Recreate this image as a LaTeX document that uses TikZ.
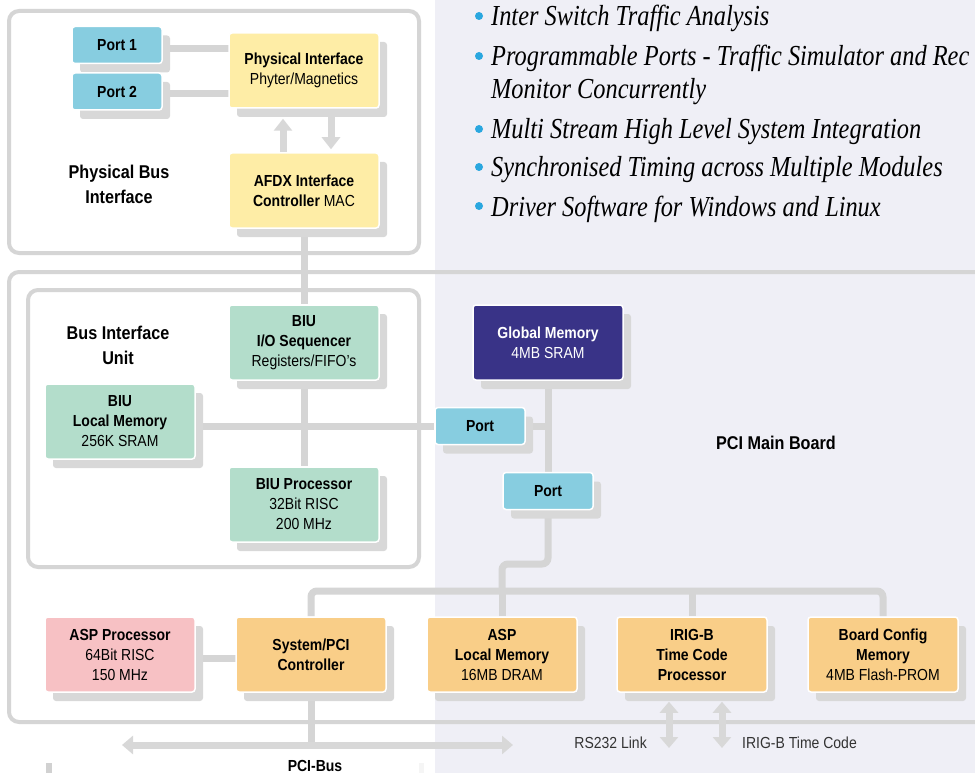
\documentclass[tikz,border=0pt]{standalone}
\usepackage{fontspec}
\setmainfont[FakeStretch=0.875]{Liberation Sans}
\newfontfamily\featfont[FakeStretch=0.84]{Liberation Serif}
\usetikzlibrary{arrows.meta,shadows}
\definecolor{bglav}{HTML}{EFEFF6}
\definecolor{linegray}{HTML}{D5D5D5}
\definecolor{shadowgray}{HTML}{D8D8D8}
\definecolor{portblue}{HTML}{87CDE0}
\definecolor{physyellow}{HTML}{FEEDA6}
\definecolor{biugreen}{HTML}{B3DDCB}
\definecolor{gmemblue}{HTML}{393387}
\definecolor{asppink}{HTML}{F7C1C4}
\definecolor{pciorange}{HTML}{F9CE88}
\definecolor{dotblue}{HTML}{2AA7DF}
\definecolor{labelgray}{HTML}{333333}
\pgfdeclarelayer{back}
\pgfdeclarelayer{wires}
\pgfsetlayers{back,wires,main}

\begin{document}
\begin{tikzpicture}[x=1pt,y=-1pt,
    box/.style={draw=white, line width=1.5pt, rounded corners=3pt,
      minimum width=150pt, minimum height=75pt, align=center, inner sep=2pt,
      font=\fontsize{16}{20}\selectfont,
      drop shadow={shadow xshift=8pt, shadow yshift=-9pt, fill=shadowgray, opacity=1}},
    portbox/.style={box, fill=portblue, minimum width=90pt, minimum height=37pt,
      font=\bfseries\fontsize{16}{20}\selectfont},
    bar/.style={draw=linegray, line width=7pt},
    frame/.style={draw=linegray, line width=4pt, rounded corners=10pt},
    arr/.style={draw=shadowgray, line width=7pt, arrows={-Triangle[width=18pt,length=12pt]}},
    dblarr/.style={draw=shadowgray, line width=7pt,
      arrows={Triangle[width=18pt,length=11pt]-Triangle[width=18pt,length=11pt]}},
    title/.style={font=\bfseries\fontsize{18.5}{25}\selectfont, align=center},
    lbl/.style={font=\fontsize{16}{20}\selectfont, text=labelgray, inner sep=0pt},
    feat/.style={anchor=base west, inner sep=0pt,
      font=\featfont\itshape\fontsize{29}{33}\selectfont}
  ]
  \useasboundingbox (0,0) rectangle (975,773);
  \clip (0,0) rectangle (975,773);

  % backgrounds and frames
  \begin{pgfonlayer}{back}
    \fill[white] (0,0) rectangle (975,773);
    \fill[bglav] (435,0) rectangle (975,773);
    \draw[frame] (9,11) rectangle (419,253);
    \draw[frame] (975,272) -- (9,272) -- (9,722) -- (975,722);
    \draw[frame] (28,290) rectangle (419,567);
    \fill[black!18] (46,763) rectangle (52,773);
    \fill[bglav!70!black!12] (419,763) rectangle (424,773);
  \end{pgfonlayer}

  % feature list
  \node[feat] (feat1) at (491,26) {Inter Switch Traffic Analysis};
  \node[feat] (feat2) at (491,66) {Programmable Ports - Traffic Simulator and Rec};
  \node[feat] (feat2b) at (491,99) {Monitor Concurrently};
  \node[feat] (feat3) at (491,139) {Multi Stream High Level System Integration};
  \node[feat] (feat4) at (491,177) {Synchronised Timing across Multiple Modules};
  \node[feat] (feat5) at (491,216) {Driver Software for Windows and Linux};
  \foreach \f in {feat1,feat2,feat3,feat4,feat5}
    \fill[dotblue] ([xshift=-12pt,yshift=10pt]\f.base west) circle (4pt);

  % physical bus interface
  \node[title] (pbilbl) at (119,184.5) {Physical Bus\\Interface};
  \node[portbox] (port1) at (117,45) {Port 1};
  \node[portbox] (port2) at (117,91.5) {Port 2};
  \node[box, fill=physyellow] (phys) at (304,70.5) {\textbf{Physical Interface}\\Phyter/Magnetics};
  \node[box, fill=physyellow] (afdx) at (304,190.5) {\textbf{AFDX Interface}\\\textbf{Controller} MAC};

  % bus interface unit
  \node[title] (biulbl) at (118,345) {Bus Interface\\Unit};
  \node[box, fill=biugreen] (bius) at (304,342.5) {\textbf{BIU}\\\textbf{I/O Sequencer}\\Registers/FIFO's};
  \node[box, fill=biugreen] (biulm) at (120,421.5) {\textbf{BIU}\\\textbf{Local Memory}\\256K SRAM};
  \node[box, fill=biugreen] (biup) at (304,504.5) {\textbf{BIU Processor}\\32Bit RISC\\200 MHz};

  % main board
  \node[title] (pcilbl) at (776,443) {PCI Main Board};
  \node[box, fill=gmemblue, text=white] (gmem) at (548,342.5) {\textbf{Global Memory}\\4MB SRAM};
  \node[portbox] (portm) at (480,426) {Port};
  \node[portbox] (portl) at (548,491) {Port};
  \node[box, fill=asppink] (asp) at (120,654.5) {\textbf{ASP Processor}\\64Bit RISC\\150 MHz};
  \node[box, fill=pciorange] (syspci) at (311,654.5) {\textbf{System/PCI}\\\textbf{Controller}};
  \node[box, fill=pciorange] (asplm) at (502,654.5) {\textbf{ASP}\\\textbf{Local Memory}\\16MB DRAM};
  \node[box, fill=pciorange] (irig) at (692,654.5) {\textbf{IRIG-B}\\\textbf{Time Code}\\\textbf{Processor}};
  \node[box, fill=pciorange] (bcfg) at (883,654.5) {\textbf{Board Config}\\\textbf{Memory}\\4MB Flash-PROM};

  \node[lbl, anchor=base east] (rslbl) at (647,748) {RS232 Link};
  \node[lbl, anchor=base west] (tclbl) at (742,748) {IRIG-B Time Code};
  \node[font=\bfseries\fontsize{16}{20}\selectfont, anchor=north, inner sep=0pt] (pcibus) at (315,760) {PCI-Bus};

  \coordinate (rsend) at (669,748);
  \coordinate (tcend) at (722,748);
  \coordinate (pcil) at (122,745);
  \coordinate (pcir) at (513,745);

  % connectors
  \begin{pgfonlayer}{wires}
    \draw[bar] ([yshift=-4pt]port1.center) -- ([yshift=-4pt]port1.center -| phys.center);
    \draw[bar] ([yshift=-2.5pt]port2.center) -- ([yshift=-2.5pt]port2.center -| phys.center);
    \draw[arr] ([xshift=-21pt]afdx.north) -- ([xshift=-21pt,yshift=-10pt]phys.south);
    \draw[arr] ([xshift=27pt]phys.south) -- ([xshift=27pt,yshift=3pt]afdx.north);
    \draw[bar] (afdx) -- (bius);
    \draw[bar] (bius) -- (biup);
    \draw[bar] (biulm |- portm) -- (portm);
    \draw[bar] (gmem) -- (portl);
    \draw[bar] (portm) -- (portm -| gmem);
    \draw[bar, rounded corners=6pt] (portl) |- (asplm |- 0,564) -- (asplm |- 0,591);
    \draw[bar, rounded corners=6pt] (syspci) |- (bcfg |- 0,591) -- (bcfg);
    \draw[bar] (asplm) -- (asplm |- 0,591);
    \draw[bar] (irig) -- (irig |- 0,591);
    \draw[bar] ([yshift=-4pt]asp.center) -- ([yshift=-4pt]syspci.center);
    \draw[bar] (syspci) -- (syspci |- pcil);
    \draw[dblarr] (pcil) -- (pcir);
    \draw[dblarr] ([xshift=-23pt,yshift=-9pt]irig.south) -- (rsend);
    \draw[dblarr] ([xshift=30pt,yshift=-9pt]irig.south) -- (tcend);
  \end{pgfonlayer}
\end{tikzpicture}
\end{document}
